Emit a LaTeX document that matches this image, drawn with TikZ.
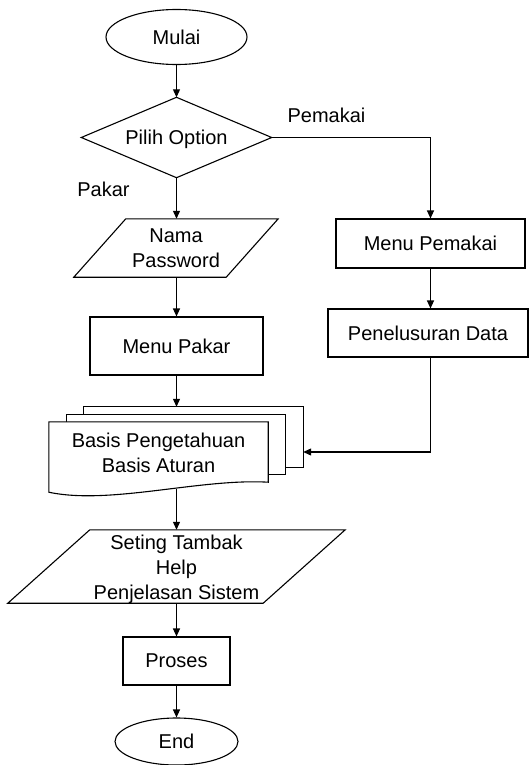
\documentclass[tikz,border=0pt]{standalone}
\usepackage{fontspec}
\setmainfont{Liberation Sans}
\usetikzlibrary{arrows.meta,shapes.geometric,calc}

\tikzset{
  base/.style={inner sep=0pt, align=center, font=\fontsize{20}{25}\selectfont},
  oval/.style={base, draw, ellipse, line width=1.1pt},
  box/.style={base, draw, rectangle, line width=1.1pt},
  frame/.style={base, rectangle},
  outline/.style={draw, line width=1.1pt, line join=miter},
  label/.style={inner sep=0pt, font=\fontsize{20}{25}\selectfont, anchor=base},
  flow/.style={line width=1.1pt, -{Triangle[length=8pt,width=7pt]}}
}

\begin{document}
\begin{tikzpicture}[x=1pt, y=-1pt]
\useasboundingbox (0,0) rectangle (529,765);

% terminals
\node[oval, minimum width=141pt, minimum height=55pt] (start) at (176.5,37) {Mulai};
\node[oval, minimum width=123pt, minimum height=47pt] (stop) at (176.5,741.5) {End};

% decision
\node[frame, minimum width=190pt, minimum height=80pt] (choice) at (176.5,137.5) {};
\draw[outline] (choice.north) -- (choice.east) -- (choice.south) -- (choice.west) -- cycle;
\node[base] (choicetext) at (176.5,139) {Pilih Option};

% login input
\node[frame, minimum width=204pt, minimum height=58pt] (login) at (176,248) {Nama\\Password};
\draw[outline] ($(login.north west)+(52,0)$) -- (login.north east)
  -- ($(login.south east)+(-52,0)$) -- (login.south west) -- cycle;

% expert menu
\node[box, minimum width=173pt, minimum height=58pt] (expert) at (176.5,346) {Menu Pakar};

% user branch
\node[box, minimum width=189pt, minimum height=49pt] (user) at (430.5,243.5) {Menu Pemakai};
\node[box, minimum width=200pt, minimum height=48pt] (search) at (428,333) {Penelusuran Data};

% knowledge base: stacked documents
\node[frame, minimum width=219pt, minimum height=60pt] (back) at (193.5,437) {};
\node[frame, minimum width=218pt, minimum height=59pt] (middle) at (176,444.5) {};
\node[frame, minimum width=219pt, minimum height=68pt] (kb) at (158.5,456) {};
\draw[outline] (back.south west) |- (back.north east) |- (back.south west);
\draw[outline, fill=white] (middle.south west) |- (middle.north east) |- (middle.south west);
\draw[outline, fill=white] ($(kb.south west)+(0,2)$) -- (kb.north west) -- (kb.north east)
  -- ($(kb.south east)+(0,-8)$)
  .. controls ($(kb.south east)+(-68,-12)$) and ($(kb.south west)+(61,15)$)
  .. ($(kb.south west)+(0,2)$) -- cycle;
\node[base] (kbtext) at (158.5,453) {Basis Pengetahuan\\Basis Aturan};

% settings input
\node[frame, minimum width=337pt, minimum height=73pt] (setup) at (176.5,566.5) {};
\draw[outline] ($(setup.north west)+(82,0)$) -- (setup.north east)
  -- ($(setup.south east)+(-82,0)$) -- (setup.south west) -- cycle;
\node[base] (setuptext) at (176.5,569.5) {Seting Tambak\\Help\\Penjelasan Sistem};

% process
\node[box, minimum width=107pt, minimum height=48pt] (proc) at (176.5,661) {Proses};

% branch labels
\node[label] (lbluser) at (326.5,122) {Pemakai};
\node[label] (lblexpert) at (103.5,196) {Pakar};

% connectors
\coordinate (kbout) at (176.5,489);
\coordinate (kbin) at ($(back.east)+(0,15)$);
\draw[flow] (start) -- (choice.north);
\draw[flow] (choice.south) -- (login.north -| choice.south);
\draw[flow] (login.south -| expert.north) -- (expert.north);
\draw[flow] (expert.south) -- (back.north -| expert.south);
\draw[flow] (choice.east) -| (user.north);
\draw[flow] (user.south) -- (search.north -| user.south);
\draw[flow] (search.south -| user.south) |- (kbin);
\draw[flow] (kbout) -- (setup.north -| kbout);
\draw[flow] (setup.south -| proc.north) -- (proc.north);
\draw[flow] (proc.south) -- (stop.north);
\end{tikzpicture}
\end{document}
